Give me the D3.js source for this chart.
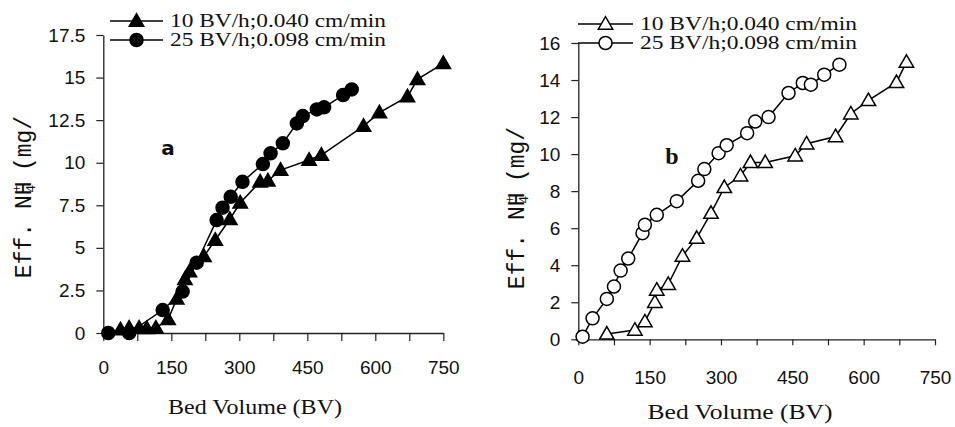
<!DOCTYPE html>
<html><head><meta charset="utf-8">
<script src="https://cdn.jsdelivr.net/npm/d3@7"></script>
<style>
body{margin:0;background:#fff;}
svg{display:block;}
</style></head>
<body>
<svg id="chart" width="955" height="427"></svg>
<script>
// ---- Data ----
const legendLabels = ["10 BV/h;0.040 cm/min", "25 BV/h;0.098 cm/min"];
const xTicks = [0,75,150,225,300,375,450,525,600,675,750];
const xTickLabels = ["0","150","300","450","600","750"];
const yTicksA = [0,2.5,5,7.5,10,12.5,15,17.5];
const yTickLabelsA = ["0","2.5","5","7.5","10","12.5","15","17.5"];
const yTicksB = [0,2,4,6,8,10,12,14,16];
const yTickLabelsB = ["0","2","4","6","8","10","12","14","16"];

// Panel a: 10 BV/h (triangles)
const aTriBV = [38,57,79,96,116,143,162,180,190,222,247,279,302,346,363,391,454,481,574,609,671,693,750];
const aTriC  = [0.2,0.3,0.3,0.27,0.3,0.8,2.0,3.15,3.6,4.5,5.46,6.68,7.65,8.88,8.94,9.57,10.16,10.45,12.15,12.94,13.88,14.9,15.84];
// Panel a: 25 BV/h (circles)
const aCirBV = [11,57,131,175,206,250,263,281,307,352,369,396,427,440,471,487,529,548];
const aCirC  = [0,0,1.35,2.43,4.13,6.63,7.36,8.0,8.88,9.92,10.55,11.14,12.31,12.74,13.13,13.25,13.97,14.3];
// Panel b: 10 BV/h (open triangles)
const bTriBV = [60,119,140,161,165,189,219,249,279,307,341,362,393,456,480,541,573,610,669,690];
const bTriC  = [0.29,0.5,0.95,2.0,2.66,2.97,4.5,5.46,6.81,8.2,8.83,9.55,9.55,9.91,10.56,10.95,12.18,12.9,13.87,14.97];
// Panel b: 25 BV/h (open circles)
const bCirBV = [9,30,60,75,89,105,135,140,165,207,252,265,295,312,355,372,400,442,472,489,517,549];
const bCirC  = [0.14,1.13,2.18,2.85,3.71,4.36,5.73,6.18,6.72,7.46,8.56,9.19,10.05,10.48,11.13,11.76,12.0,13.3,13.84,13.75,14.29,14.83];

const zip = (xs, ys) => xs.map((x,i)=>({x, y: ys[i]}));

const svg = d3.select("#chart");
const tickFont = "'Liberation Sans', Arial, sans-serif";
const serifFont = "'Liberation Serif', 'Times New Roman', serif";
const monoFont = "'Liberation Mono', 'Courier New', monospace";

function panel(cfg){
  const g = svg.append("g");
  const x = d3.scaleLinear().domain([0,750]).range(cfg.xr);
  const y = d3.scaleLinear().domain(cfg.yd).range(cfg.yr);

  const xa = g.append("g").attr("transform",`translate(0,${cfg.yr[0]})`)
    .call(d3.axisBottom(x).tickValues(xTicks).tickSize(cfg.xTickSize).tickSizeOuter(0).tickPadding(cfg.xPad)
      .tickFormat(d => (d % 150 === 0) ? xTickLabels[d/150] : ""));
  const ya = g.append("g").attr("transform",`translate(${cfg.xr[0]},0)`)
    .call(d3.axisLeft(y).tickValues(cfg.yTicks).tickSize(7).tickSizeOuter(0).tickPadding(11)
      .tickFormat((d,i) => cfg.yLabels[i]));
  [xa, ya].forEach(a => {
    a.select(".domain").attr("stroke","#222").attr("stroke-width",1.3);
    a.selectAll(".tick line").attr("stroke","#222").attr("stroke-width",1.2);
    a.selectAll(".tick text").attr("fill","#111").style("font-family",tickFont).style("font-size","19px");
  });

  const line = d3.line().x(d=>x(d.x)).y(d=>y(d.y));
  const tri = d3.symbol().type(d3.symbolTriangle).size(cfg.triSize);

  cfg.series.forEach(s => {
    g.append("path").datum(s.data).attr("d", line)
      .attr("fill","none").attr("stroke","#000").attr("stroke-width",1.5);
  });
  cfg.series.forEach(s => {
    const sel = g.append("g").selectAll("*").data(s.data);
    if (s.shape === "tri") {
      sel.enter().append("path").attr("d", tri)
        .attr("transform", d=>`translate(${x(d.x)},${y(d.y)+1})`)
        .attr("fill", cfg.filled ? "#000" : "#fff").attr("stroke","#000").attr("stroke-width",1.5);
    } else {
      sel.enter().append("circle").attr("cx", d=>x(d.x)).attr("cy", d=>y(d.y)).attr("r", cfg.r)
        .attr("fill", cfg.filled ? "#000" : "#fff").attr("stroke","#000").attr("stroke-width",1.5);
    }
  });

  cfg.legend.forEach((L,i) => {
    const lg = g.append("g");
    lg.append("line").attr("x1",L.x1).attr("x2",L.x2).attr("y1",L.y).attr("y2",L.y)
      .attr("stroke","#000").attr("stroke-width",1.5);
    const cx = (L.x1+L.x2)/2;
    if (i===0) {
      lg.append("path").attr("d", tri).attr("transform",`translate(${cx},${L.y+1})`)
        .attr("fill", cfg.filled ? "#000" : "#fff").attr("stroke","#000").attr("stroke-width",1.5);
    } else {
      lg.append("circle").attr("cx",cx).attr("cy",L.y).attr("r",cfg.r)
        .attr("fill", cfg.filled ? "#000" : "#fff").attr("stroke","#000").attr("stroke-width",1.5);
    }
    lg.append("text").attr("x",L.tx).attr("y",L.y+6)
      .attr("textLength",L.tw).attr("lengthAdjust","spacingAndGlyphs")
      .style("font-family",serifFont).style("font-size","18px").attr("fill","#111")
      .text(legendLabels[i]);
  });

  g.append("text").attr("x",cfg.titleX).attr("y",cfg.titleY).attr("text-anchor","middle")
    .attr("textLength",cfg.titleW).attr("lengthAdjust","spacingAndGlyphs")
    .style("font-family",serifFont).style("font-size","21px").attr("fill","#111")
    .text("Bed Volume (BV)");

  const yt = g.append("text").attr("transform",`translate(${cfg.ylX},${cfg.ylY}) rotate(-90)`)
    .attr("text-anchor","middle")
    .style("font-family",monoFont).style("font-size","23px").attr("fill","#111");
  yt.append("tspan").text("Eff. NH");
  yt.append("tspan").attr("dx",-11).attr("dy",-10).style("font-size","13px").text("+");
  yt.append("tspan").attr("dx",-8).attr("dy",14).style("font-size","13px").text("4");
  yt.append("tspan").attr("dy",-4).text(" (mg/");

  g.append("text").attr("x",cfg.letterX).attr("y",cfg.letterY).attr("text-anchor","middle")
    .style("font-family",cfg.letterFont).style("font-weight","bold").style("font-size",cfg.letterSize)
    .attr("fill","#111").text(cfg.letter);
}

panel({
  xr:[103.3,443.3], yd:[0,17.5], yr:[333,35], yTicks:yTicksA, yLabels:yTickLabelsA,
  xTickSize:8, xPad:20, filled:true, r:6.5, triSize:90,
  series:[{shape:"tri", data:zip(aTriBV,aTriC)},{shape:"cir", data:zip(aCirBV,aCirC)}],
  legend:[{x1:110,x2:163,y:21,tx:170,tw:216},{x1:110,x2:163,y:40,tx:170,tw:216}],
  titleX:255, titleY:414, titleW:174, ylX:31, ylY:197,
  letter:"a", letterX:168, letterY:155, letterFont:"'DejaVu Sans', Verdana, sans-serif", letterSize:"20px"
});

panel({
  xr:[578.3,935], yd:[0,16], yr:[339.3,43], yTicks:yTicksB, yLabels:yTickLabelsB,
  xTickSize:6, xPad:25, filled:false, r:6.5, triSize:90,
  series:[{shape:"tri", data:zip(bTriBV,bTriC)},{shape:"cir", data:zip(bCirBV,bCirC)}],
  legend:[{x1:578,x2:633,y:24,tx:640,tw:217},{x1:578,x2:633,y:43,tx:640,tw:217}],
  titleX:740, titleY:419, titleW:185, ylX:524, ylY:208,
  letter:"b", letterX:672, letterY:164, letterFont:"'Liberation Serif', serif", letterSize:"24px"
});
</script>
</body></html>
